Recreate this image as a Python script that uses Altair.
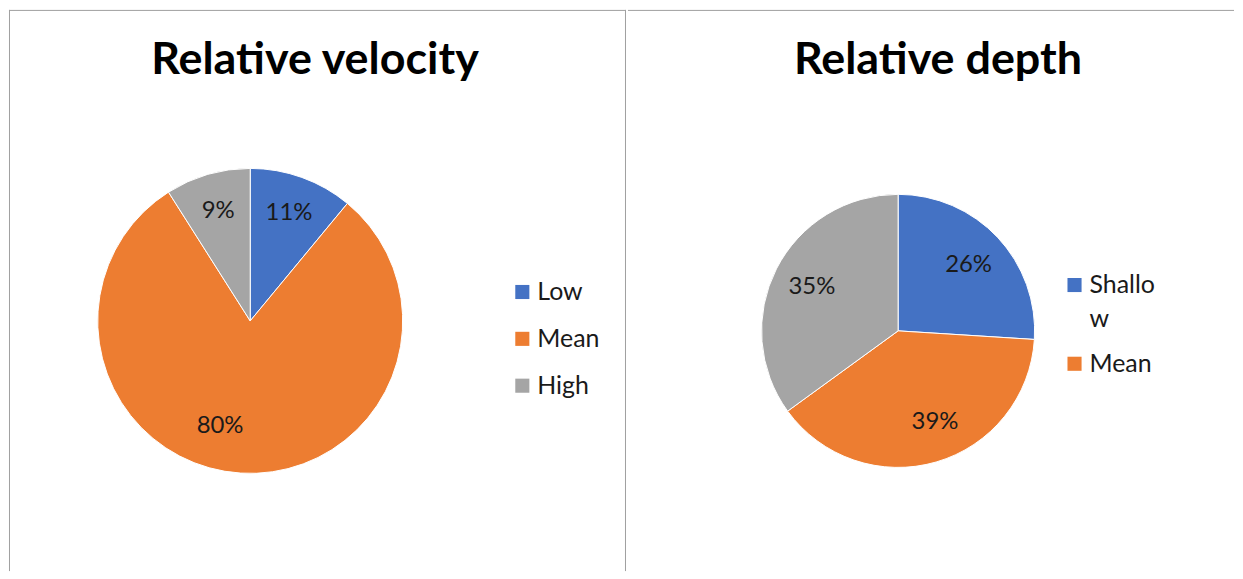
import altair as alt
import pandas as pd

# ---- data ----
vel_cats = ["Low", "Mean", "High"]
vel_vals = [11, 80, 9]
vel_legend_cats = ["Low", "Mean", "High"]
vel_legend_text = ["Low", "Mean", "High"]

dep_cats = ["Shallow", "Mean", "Deep"]
dep_vals = [26, 39, 35]
dep_legend_cats = ["Shallow", "Mean"]          # legend is cut off after two entries
dep_legend_text = ["Shallo\nw", "Mean"]        # wrapped as in the original

slice_colors = ["#4472C4", "#ED7D31", "#A5A5A5"]
panel_titles = ["Relative velocity", "Relative depth"]

FONT = "Lato"
BORDER = "#a0a0a0"
TXT = "#1a1a1a"
H = 563


def panel(cats, vals, leg_cats, leg_text, title, w, cx, cy, r, lr, title_x,
          leg_sq_x, leg_txt_x, leg_y0, leg_y1, left_border, right_border,
          nudge=None):
    df = pd.DataFrame({"cat": cats, "val": vals, "ord": list(range(len(cats)))})
    df["label"] = [f"{v}%" for v in vals]
    color = alt.Color("cat:N", scale=alt.Scale(domain=cats, range=slice_colors),
                      legend=None)
    base = alt.Chart(df).encode(
        theta=alt.Theta("val:Q", stack=True),
        order=alt.Order("ord:Q"),
        x=alt.value(cx),
        y=alt.value(cy),
    )
    arc = base.mark_arc(outerRadius=r, stroke="white", strokeWidth=1).encode(color=color)
    layers = [arc]
    if nudge:
        nud_cat, ndx, ndy = nudge
        cond = alt.datum.cat == nud_cat
        layers.append(base.mark_text(radius=lr, font=FONT, fontSize=24, color=TXT).encode(
            text="label:N", opacity=alt.condition(cond, alt.value(0), alt.value(1))))
        layers.append(base.mark_text(radius=lr, font=FONT, fontSize=24, color=TXT,
                                     dx=ndx, dy=ndy).encode(
            text="label:N", opacity=alt.condition(cond, alt.value(1), alt.value(0))))
    else:
        layers.append(base.mark_text(radius=lr, font=FONT, fontSize=24, color=TXT).encode(
            text="label:N"))

    # legend drawn as marks (to reproduce the wrapped, cut-off legend)
    ldf = pd.DataFrame({"cat": leg_cats, "disp": leg_text})
    ly = alt.Y("cat:N", scale=alt.Scale(domain=leg_cats, range=[leg_y0, leg_y1], padding=0),
               axis=None)
    lsq = alt.Chart(ldf).mark_square(size=200, opacity=1).encode(
        x=alt.value(leg_sq_x), y=ly, color=color)
    ltx = alt.Chart(ldf).mark_text(font=FONT, fontSize=25, color=TXT, align="left",
                                   baseline="middle", lineBreak="\n", lineHeight=34).encode(
        x=alt.value(leg_txt_x), y=ly, text="disp:N")
    layers += [lsq, ltx]

    one = pd.DataFrame({"t": [title]})
    ttl = alt.Chart(one).mark_text(
        font=FONT, fontSize=45, fontWeight="bold", color="black",
        baseline="alphabetic", align="center",
    ).encode(text="t:N", x=alt.value(title_x), y=alt.value(64))
    layers.append(ttl)

    layers.append(alt.Chart(one).mark_rule(color=BORDER, strokeWidth=1).encode(
        x=alt.value(0), x2=alt.value(w), y=alt.value(0.5)))
    if left_border:
        layers.append(alt.Chart(one).mark_rule(color=BORDER, strokeWidth=1).encode(
            x=alt.value(0.5), y=alt.value(0), y2=alt.value(H)))
    if right_border:
        layers.append(alt.Chart(one).mark_rule(color=BORDER, strokeWidth=1).encode(
            x=alt.value(w - 0.5), y=alt.value(0), y2=alt.value(H)))
    return alt.layer(*layers).properties(width=w, height=H)


left = panel(vel_cats, vel_vals, vel_legend_cats, vel_legend_text, panel_titles[0],
             619, 242, 312, 153, 115, 307,
             515, 530, 283, 377, True, True, nudge=("Mean", -23, -9))
right = panel(dep_cats, dep_vals, dep_legend_cats, dep_legend_text, panel_titles[1],
              608, 271, 322, 137, 97, 311,
              448, 463, 276, 355, False, False, nudge=("Mean", 10, -2))

chart = alt.hconcat(left, right, spacing=0).resolve_scale(
    color="independent", y="independent").properties(
    padding=0
).configure_view(stroke="transparent", strokeWidth=0)

chart.save("out.html", embed_options={"renderer": "svg", "actions": False})
